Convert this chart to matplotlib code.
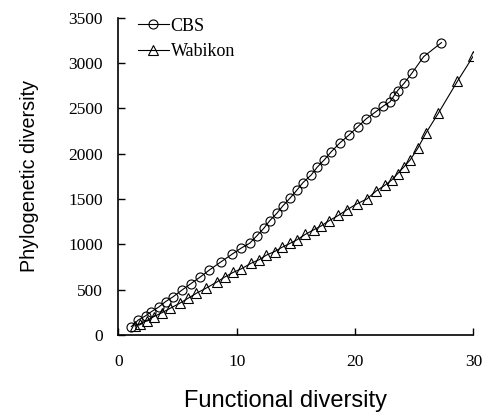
import matplotlib
matplotlib.use('Agg')
import matplotlib.pyplot as plt

# CBS series (functional vs phylogenetic diversity)
cbs_fd = [1.1, 1.7, 2.3, 2.8, 3.4, 4.0, 4.65, 5.4, 6.1, 6.9, 7.7, 8.7, 9.6,
          10.4, 11.1, 11.7, 12.3, 12.8, 13.4, 13.9, 14.5, 15.1, 15.6, 16.3,
          16.8, 17.4, 18.0, 18.74, 19.5, 20.24, 20.96, 21.7, 22.4, 22.97,
          23.3, 23.6, 24.15, 24.8, 25.8, 27.3]
cbs_pd = [92, 166, 210, 257, 306, 368, 423, 497, 563, 637, 717, 809, 890,
          960, 1012, 1093, 1178, 1262, 1343, 1424, 1509, 1600, 1681, 1766,
          1851, 1932, 2023, 2122, 2208, 2299, 2387, 2458, 2527, 2575,
          2641, 2697, 2778, 2888, 3072, 3226]

# Wabikon series
wab_fd = [1.4, 1.8, 2.4, 3.0, 3.7, 4.4, 5.2, 5.9, 6.6, 7.4, 8.3, 9.0, 9.7,
          10.4, 11.2, 11.9, 12.5, 13.2, 13.8, 14.5, 15.1, 15.8, 16.5, 17.1,
          17.8, 18.6, 19.3, 20.2, 21.0, 21.8, 22.5, 23.1, 23.6, 24.1, 24.65,
          25.3, 26.0, 27.05, 28.65, 30.0]
wab_pd = [99, 121, 158, 202, 246, 295, 350, 405, 460, 515, 582, 640, 690,
          730, 790, 830, 880, 920, 965, 1010, 1050, 1110, 1160, 1200,
          1260, 1320, 1380, 1450, 1500, 1590, 1650, 1710, 1780, 1850, 1930,
          2060, 2230, 2450, 2800, 3080]

xticks = [0, 10, 20, 30]
yticks = [0, 500, 1000, 1500, 2000, 2500, 3000, 3500]

serif = 'Liberation Serif'
sans = 'Liberation Sans'

fig = plt.figure(figsize=(5.02, 4.15), dpi=100)
ax = fig.add_axes([0.2357, 0.193, 0.7073, 0.764])

ax.plot(cbs_fd, cbs_pd, color='black', lw=0.8, marker='o', ms=6.5,
        mfc='none', mec='black', mew=0.8, label='CBS')
ax.plot(wab_fd, wab_pd, color='black', lw=0.8, marker='^', ms=6.5,
        mfc='none', mec='black', mew=0.8, label='Wabikon')

ax.set_xlim(0, 30)
ax.set_ylim(0, 3500)
ax.set_xticks(xticks)
ax.set_yticks(yticks)
ax.spines['top'].set_visible(False)
ax.spines['right'].set_visible(False)
ax.spines['left'].set_linewidth(1.2)
ax.spines['bottom'].set_linewidth(1.2)
ax.tick_params(axis='both', direction='in', length=5, width=1.0)
ax.tick_params(axis='y', pad=11)
ax.tick_params(axis='x', pad=14)
for lab in ax.get_xticklabels() + ax.get_yticklabels():
    lab.set_fontfamily(serif)
    lab.set_fontsize(12.5)

ax.set_xlabel('Functional diversity', fontfamily=sans, fontsize=17)
ax.xaxis.set_label_coords(0.47, -0.175)
ax.set_ylabel('Phylogenetic diversity', fontfamily=sans, fontsize=14.2, labelpad=21)

leg = ax.legend(loc='upper left', frameon=False, prop={'family': serif, 'size': 13},
                handlelength=1.7, handletextpad=0.1, borderaxespad=0.3,
                labelspacing=0.45, bbox_to_anchor=(0.02, 1.04))

fig.savefig('out.png', dpi=100)
